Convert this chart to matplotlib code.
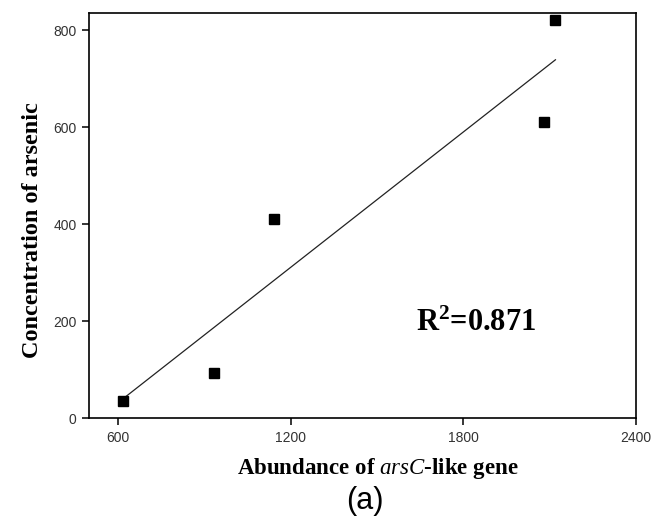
import numpy as np
import matplotlib
matplotlib.use("Agg")
import matplotlib.pyplot as plt

plt.rcParams["mathtext.fontset"] = "custom"
plt.rcParams["mathtext.rm"] = "Liberation Serif:bold"
plt.rcParams["mathtext.it"] = "Liberation Serif:italic"
plt.rcParams["mathtext.bf"] = "Liberation Serif:bold"

abundance = [619, 933, 1142, 2079, 2120]
arsenic = [35, 93, 411, 610, 821]
x_ticks = [600, 1200, 1800, 2400]
y_ticks = [0, 200, 400, 600, 800]
r2_text = "R$^{2}$=0.871"

fig = plt.figure(figsize=(6.51, 5.26), dpi=100)
ax = fig.add_axes([0.137, 0.205, 0.840, 0.770])

slope, intercept = np.polyfit(abundance, arsenic, 1)
xs = np.array([min(abundance), max(abundance)])
ax.plot(xs, slope * xs + intercept, color="#222222", lw=0.9)
ax.plot(abundance, arsenic, "s", color="black", ms=6.5, mec="black")

ax.set_xlim(500, 2400)
ax.set_ylim(0, 835)
ax.set_xticks(x_ticks)
ax.set_yticks(y_ticks)
ax.set_xticklabels([str(v) for v in x_ticks], family="Liberation Sans", fontsize=10,
                   color="#333333")
ax.set_yticklabels([str(v) for v in y_ticks], family="Liberation Sans", fontsize=10,
                   color="#333333")
ax.tick_params(direction="out", length=5, width=1.1, pad=4)
for s in ax.spines.values():
    s.set_linewidth(1.2)

ax.set_xlabel("Abundance of $\\it{arsC}$-like gene", family="Liberation Serif",
              fontweight="bold", fontsize=16.5)
ax.xaxis.set_label_coords(0.527, -0.093)
ax.set_ylabel("Concentration of arsenic", family="Liberation Serif",
              fontweight="bold", fontsize=17.5)
ax.yaxis.set_label_coords(-0.085, 0.464)

ax.text(1636, 195, r2_text, family="Liberation Serif", fontweight="bold",
        fontsize=22, va="center", ha="left")

fig.text(0.561, 0.048, "(a)", family="Liberation Sans", fontsize=22,
         ha="center", va="center")

fig.savefig("out.png", dpi=100)
